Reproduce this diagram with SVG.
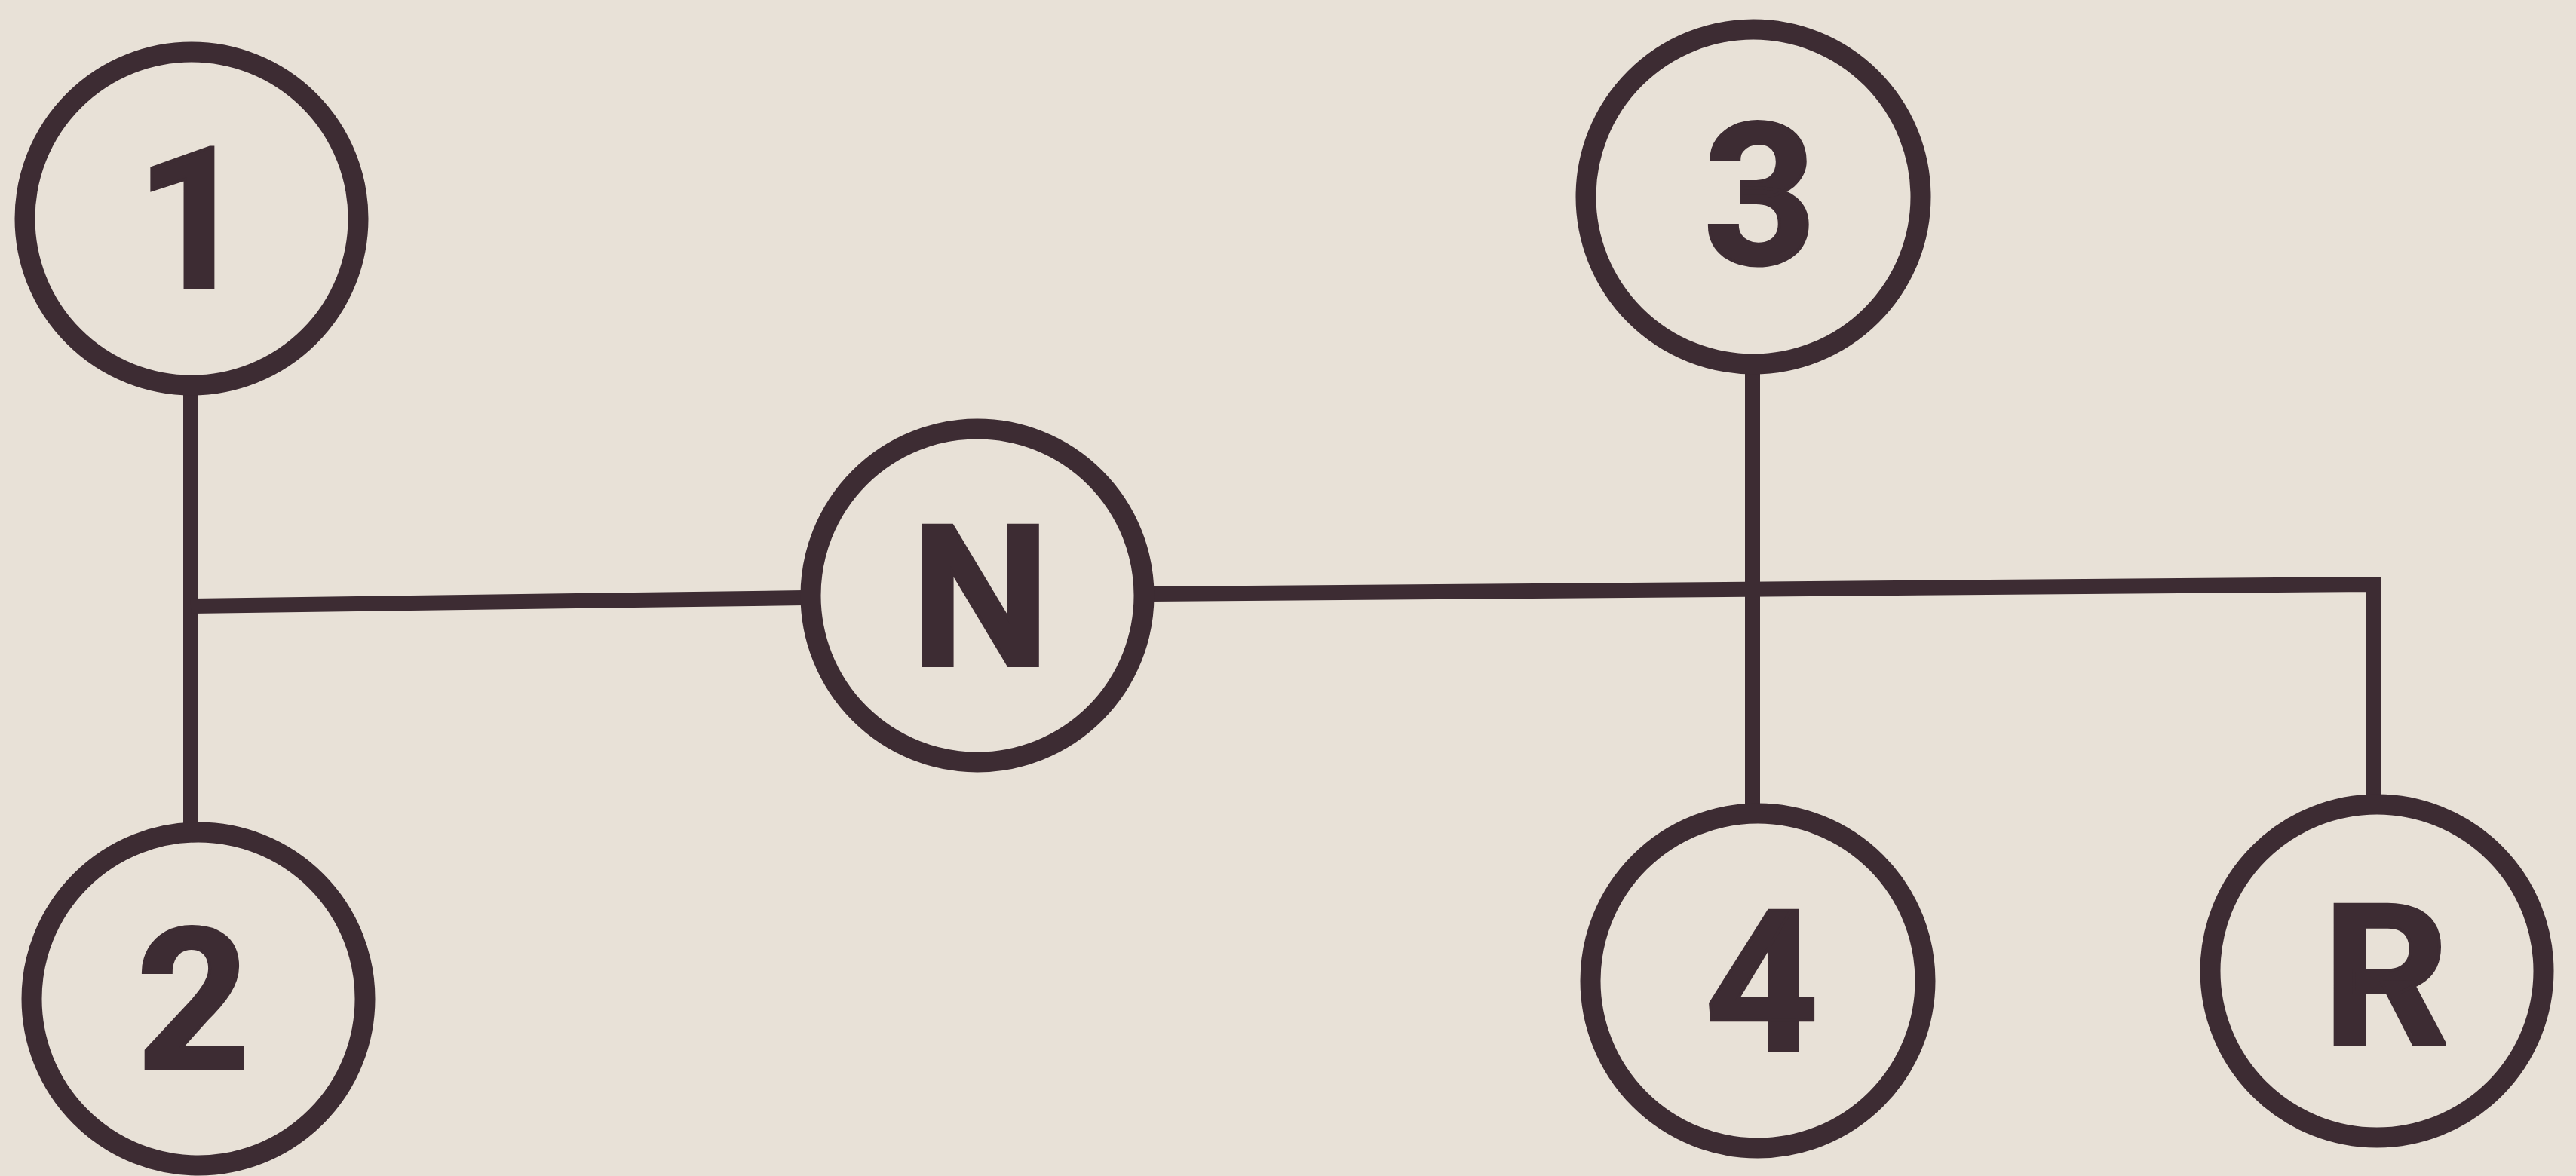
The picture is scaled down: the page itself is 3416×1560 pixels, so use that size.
<svg xmlns="http://www.w3.org/2000/svg" width="3416" height="1560" viewBox="0 0 3416 1560">
<style>
.ring{fill:none;stroke:#3d2c33;stroke-width:27}
.wire{fill:none;stroke:#3d2c33;stroke-width:20;stroke-linejoin:miter}
.lbl{font-family:Roboto,"Liberation Sans",Arial,sans-serif;font-weight:bold;font-size:262px;fill:#3d2c33;stroke:#3d2c33;stroke-width:4;text-anchor:middle}
</style>
<rect width="3416" height="1560" fill="#e8e1d7"/>
<g id="connectors">
<line class="wire" x1="253" y1="515" x2="253" y2="1095"/>
<line class="wire" x1="253" y1="804" x2="1066" y2="793"/>
<polyline class="wire" points="1526,788 3147,775 3147,1060"/>
<line class="wire" x1="2324" y1="490" x2="2324" y2="1072"/>
</g>
<g id="node-1"><circle class="ring" cx="254" cy="290" r="221"/><text class="lbl" x="255" y="382">1</text></g>
<g id="node-2"><circle class="ring" cx="263" cy="1325" r="221"/><text class="lbl" x="256" y="1418">2</text></g>
<g id="node-N"><circle class="ring" cx="1296" cy="790" r="221"/><text class="lbl" x="1300" y="883">N</text></g>
<g id="node-3"><circle class="ring" cx="2325" cy="261" r="222"/><text class="lbl" x="2334" y="350">3</text></g>
<g id="node-4"><circle class="ring" cx="2331" cy="1301" r="222"/><text class="lbl" x="2336" y="1394">4</text></g>
<g id="node-R"><circle class="ring" cx="3152" cy="1288" r="221"/><text class="lbl" x="3164" y="1386">R</text></g>
</svg>
